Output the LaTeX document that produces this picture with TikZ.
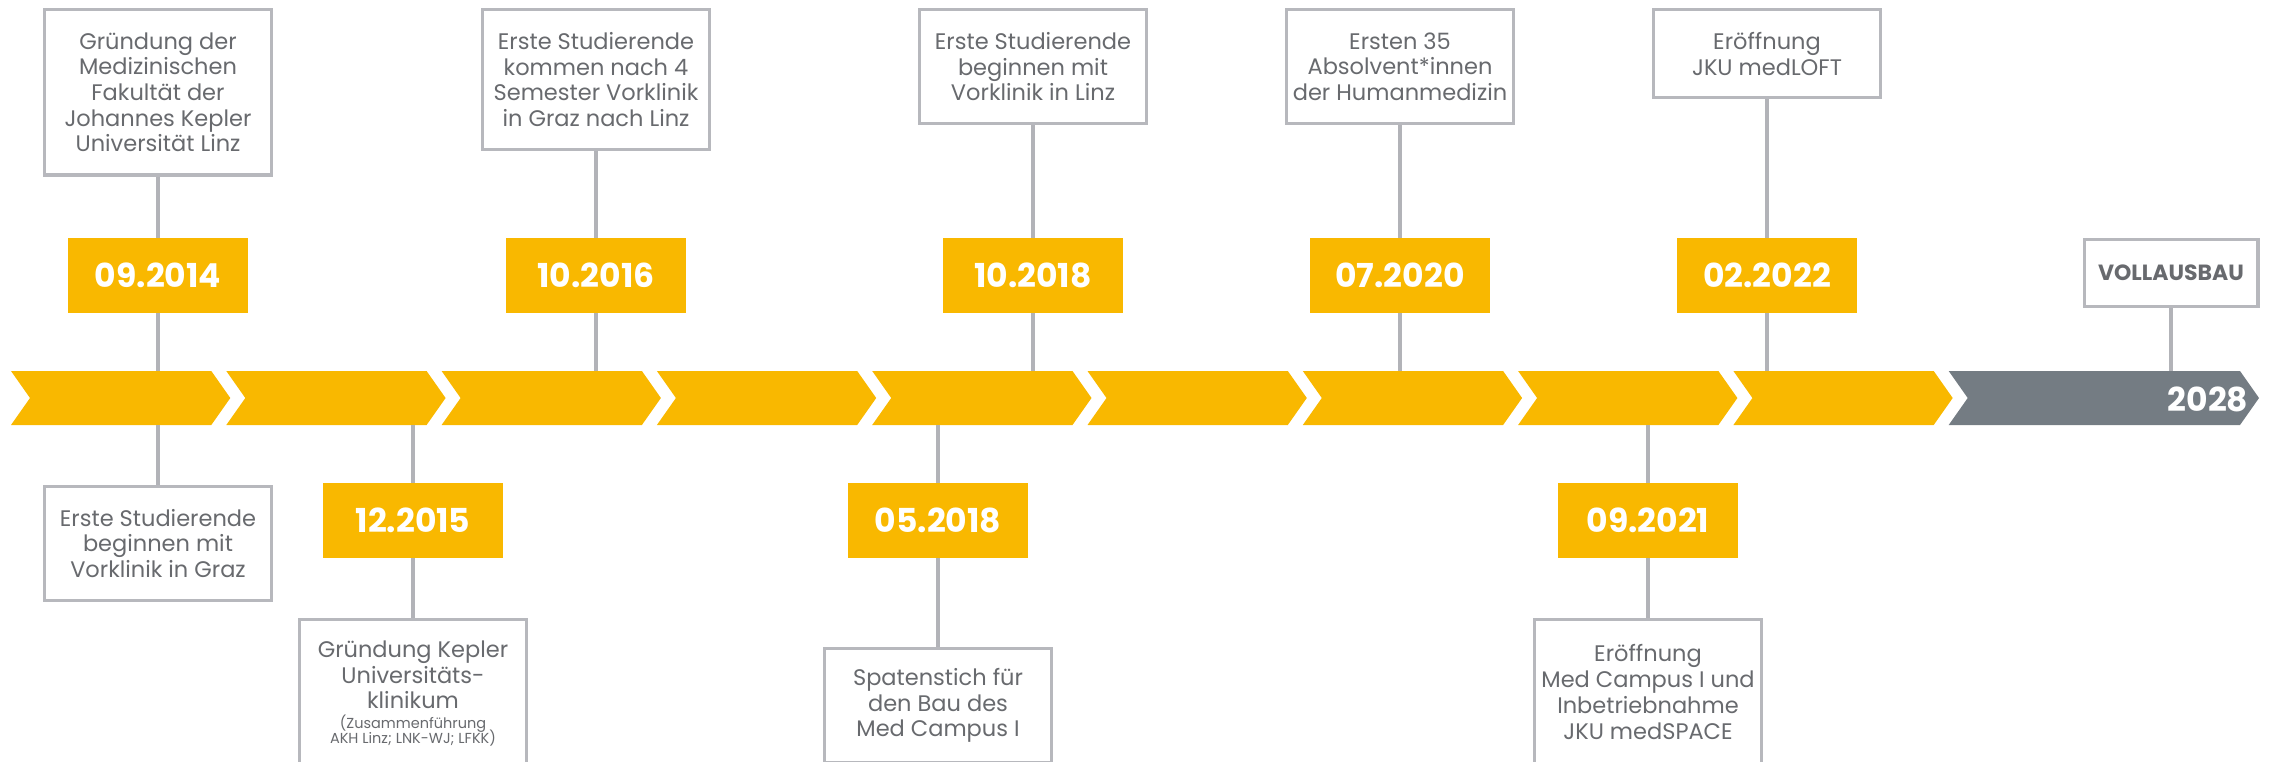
\documentclass[tikz,border=0pt]{standalone}
\usepackage{fontspec}
\setmainfont{Poppins}
\definecolor{jkuyellow}{RGB}{249,184,0}
\definecolor{bandgray}{RGB}{116,124,131}
\definecolor{bordergray}{RGB}{183,184,189}
\definecolor{textgray}{RGB}{104,106,110}
\definecolor{linegray}{RGB}{178,179,184}
\begin{document}
\begin{tikzpicture}[x=1pt,y=-1pt,
  infobox/.style={draw=bordergray,line width=3.2pt,fill=white,minimum width=227pt,inner sep=0pt,align=center,text=textgray,font=\fontsize{22.5}{25.7}\selectfont},
  datebox/.style={fill=jkuyellow,minimum width=180pt,minimum height=75pt,inner sep=0pt,text=white,font=\fontsize{33}{36}\selectfont\bfseries},
  endbox/.style={draw=bordergray,line width=3.2pt,fill=white,minimum width=173.8pt,minimum height=66.8pt,inner sep=0pt,text=textgray,font=\fontsize{22}{24}\selectfont\bfseries},
  link/.style={draw=linegray,line width=3.2pt},
  segfill/.style={fill=jkuyellow}]
\useasboundingbox (0,0) rectangle (2270,761);
% timeline band
\foreach \k in {0,...,8}{
  \pgfmathsetmacro\xl{11+215.3*\k}
  \fill[segfill] (\xl,371) -- ++(200.3,0) -- ++(19,27) -- ++(-19,27) -- ++(-200.3,0) -- ++(19,-27) -- cycle;
}
\fill[bandgray] (1948.7,371) -- (2240,371) -- (2259,398) -- (2240,425) -- (1948.7,425) -- (1967.7,398) -- cycle;
\node[text=white,font=\fontsize{33}{36}\selectfont\bfseries] (y2028) at (2208,399) {2028};
% band anchor points
\coordinate (bt1) at (158,371);
\coordinate (bt2) at (596,371);
\coordinate (bt3) at (1033,371);
\coordinate (bt4) at (1400,371);
\coordinate (bt5) at (1767,371);
\coordinate (bt6) at (2171,371);
\coordinate (bb1) at (158,425);
\coordinate (bb2) at (413,425);
\coordinate (bb3) at (938,425);
\coordinate (bb4) at (1648,425);
% top boxes
\node[infobox,minimum height=165.3pt] (t1) at (158,92.25) {Gründung der\\Medizinischen\\Fakultät der\\Johannes Kepler\\Universität Linz};
\node[infobox,minimum height=139.6pt] (t2) at (596,79.4) {Erste Studierende\\kommen nach 4\\Semester Vorklinik\\in Graz nach Linz};
\node[infobox,minimum height=113.9pt] (t3) at (1033,66.55) {Erste Studierende\\beginnen mit\\Vorklinik in Linz};
\node[infobox,minimum height=113.9pt] (t4) at (1400,66.55) {Ersten 35\\Absolvent*innen\\der Humanmedizin};
\node[infobox,minimum height=88.2pt] (t5) at (1767,53.7) {Eröffnung\\JKU medLOFT};
\node[endbox] (v) at (2171,273) {VOLLAUSBAU};
% top dates
\node[datebox] (d1) at (158,275.5) {09.2014};
\node[datebox] (d2) at (596,275.5) {10.2016};
\node[datebox] (d3) at (1033,275.5) {10.2018};
\node[datebox] (d4) at (1400,275.5) {07.2020};
\node[datebox] (d5) at (1767,275.5) {02.2022};
% bottom dates
\node[datebox] (e2) at (413,520.5) {12.2015};
\node[datebox] (e3) at (938,520.5) {05.2018};
\node[datebox] (e4) at (1648,520.5) {09.2021};
% bottom boxes
\node[infobox,minimum height=113.8pt] (b1) at (158,543.5) {Erste Studierende\\beginnen mit\\Vorklinik in Graz};
\node[infobox,minimum height=147.8pt] (b2) at (413,693.5) {Gründung Kepler\\Universitäts-\\klinikum\\[-6pt]{\fontsize{14.5}{15}\selectfont(Zusammenführung}\\[-11pt]{\fontsize{14.5}{15}\selectfont AKH Linz; LNK-WJ; LFKK)}};
\node[infobox,minimum height=113.8pt] (b3) at (938,705.5) {Spatenstich für\\den Bau des\\Med Campus I};
\node[infobox,minimum height=144.8pt] (b4) at (1648,692) {Eröffnung\\Med Campus I und\\Inbetriebnahme\\JKU medSPACE};
% connectors
\draw[link] (t1) -- (d1); \draw[link] (d1) -- (bt1);
\draw[link] (t2) -- (d2); \draw[link] (d2) -- (bt2);
\draw[link] (t3) -- (d3); \draw[link] (d3) -- (bt3);
\draw[link] (t4) -- (d4); \draw[link] (d4) -- (bt4);
\draw[link] (t5) -- (d5); \draw[link] (d5) -- (bt5);
\draw[link] (v) -- (bt6);
\draw[link] (bb1) -- (b1);
\draw[link] (bb2) -- (e2); \draw[link] (e2) -- (b2);
\draw[link] (bb3) -- (e3); \draw[link] (e3) -- (b3);
\draw[link] (bb4) -- (e4); \draw[link] (e4) -- (b4);
\end{tikzpicture}
\end{document}
